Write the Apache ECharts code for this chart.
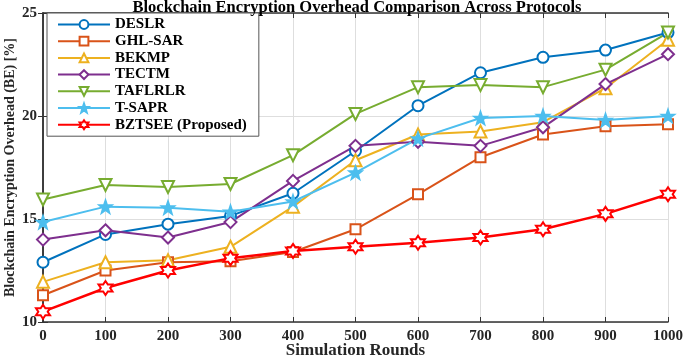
<!DOCTYPE html>
<html>
<head>
<meta charset="utf-8">
<script src="https://cdn.jsdelivr.net/npm/echarts@6/dist/echarts.min.js"></script>
<style>
  html, body { margin: 0; padding: 0; background: #fff; }
  #chart { width: 685px; height: 357px; }
</style>
</head>
<body>
<div id="chart"></div>
<script>
const rounds = [0, 100, 200, 300, 400, 500, 600, 700, 800, 900, 1000];

const deslr   = [12.9, 14.25, 14.75, 15.15, 16.25, 18.3, 20.5, 22.1, 22.85, 23.2, 24.05];
const ghlSar  = [11.3, 12.5, 12.9, 12.95, 13.4, 14.5, 16.2, 18.0, 19.1, 19.5, 19.6];
const bekmp   = [11.95, 12.9, 13.0, 13.65, 15.6, 17.85, 19.1, 19.25, 19.7, 21.35, 23.7];
const tectm   = [14.0, 14.45, 14.1, 14.85, 16.85, 18.55, 18.75, 18.55, 19.45, 21.55, 23.0];
const taflrlr = [15.95, 16.65, 16.55, 16.7, 18.1, 20.1, 21.4, 21.5, 21.4, 22.25, 24.05];
const tSapr   = [14.85, 15.6, 15.55, 15.35, 15.85, 17.25, 18.9, 19.9, 20.0, 19.8, 20.0];
const bztsee  = [10.5, 11.65, 12.5, 13.1, 13.45, 13.65, 13.85, 14.1, 14.5, 15.25, 16.2];

const seriesNames = ['DESLR', 'GHL-SAR', 'BEKMP', 'TECTM', 'TAFLRLR', 'T-SAPR', 'BZTSEE (Proposed)'];

const chartDom = document.getElementById('chart');
const myChart = echarts.init(chartDom);

const font = 'Liberation Serif';
const star5 = 'path://M0,-10 L2.35,-3.24 L9.51,-3.09 L3.8,1.24 L5.88,8.09 L0,4 L-5.88,8.09 L-3.8,1.24 L-9.51,-3.09 L-2.35,-3.24 Z';
const star6 = 'path://M0,-10 L2.9,-5 L8.66,-5 L5.8,0 L8.66,5 L2.9,5 L0,10 L-2.9,5 L-8.66,5 L-5.8,0 L-8.66,-5 L-2.9,-5 Z';
const downTri = 'path://M-9,-8 L9,-8 L0,8 Z';

function mk(name, values, color, symbol, opts) {
  opts = opts || {};
  return {
    name: name,
    type: 'line',
    data: rounds.map((r, i) => [r, values[i]]),
    symbol: symbol,
    symbolSize: opts.size || 11,
    lineStyle: { color: color, width: opts.width || 2 },
    itemStyle: {
      color: opts.filled ? color : '#fff',
      borderColor: color,
      borderWidth: 2
    },
    emphasis: { disabled: true },
    z: opts.z || 2
  };
}

const option = {
  animation: false,
  backgroundColor: '#fff',
  title: {
    text: 'Blockchain Encryption Overhead Comparison Across Protocols',
    left: 357,
    textAlign: 'center',
    top: 2,
    padding: 0,
    textStyle: { fontFamily: font, fontSize: 16.5, lineHeight: 12, fontWeight: 'bold', color: '#000' }
  },
  legend: {
    orient: 'vertical',
    left: 47,
    top: 13,
    itemWidth: 52,
    itemHeight: 11,
    itemGap: 1.7,
    padding: [4, 12, 4, 10],
    backgroundColor: '#fff',
    borderColor: '#555',
    borderWidth: 1,
    textStyle: { fontFamily: font, fontSize: 15, lineHeight: 15, fontWeight: 'bold', color: '#000' },
    data: seriesNames
  },
  grid: { left: 43, right: 17, top: 13, bottom: 35, outerBoundsMode: 'none' },
  xAxis: [{
    type: 'value',
    min: 0, max: 1000, interval: 100,
    name: 'Simulation Rounds',
    nameLocation: 'middle',
    nameGap: 20,
    nameMoveOverlap: false,
    nameTextStyle: { fontFamily: font, fontSize: 17, fontWeight: 'bold', color: '#262626' },
    axisLine: { show: true, lineStyle: { color: '#333', width: 1.5 } },
    axisTick: { show: true, inside: true, length: 5, lineStyle: { color: '#333' } },
    axisLabel: { fontFamily: font, fontSize: 15, fontWeight: 'bold', color: '#262626', margin: 7,
      formatter: v => String(v) },
    splitLine: { show: true, lineStyle: { color: '#dedede', width: 1 } }
  }, {
    type: 'value', position: 'top',
    min: 0, max: 1000, interval: 100,
    axisLine: { show: true, lineStyle: { color: '#333', width: 1.5 } },
    axisTick: { show: true, inside: true, length: 5, lineStyle: { color: '#333' } },
    axisLabel: { show: false },
    splitLine: { show: false }
  }],
  yAxis: [{
    type: 'value',
    min: 10, max: 25, interval: 5,
    name: 'Blockchain Encryption Overhead (BE) [%]',
    nameLocation: 'middle',
    nameGap: 26,
    nameMoveOverlap: false,
    nameTextStyle: { fontFamily: font, fontSize: 14, fontWeight: 'bold', color: '#262626' },
    axisLine: { show: true, lineStyle: { color: '#333', width: 1.5 } },
    axisTick: { show: true, inside: true, length: 5, lineStyle: { color: '#333' } },
    axisLabel: { fontFamily: font, fontSize: 15, fontWeight: 'bold', color: '#262626', margin: 6 },
    splitLine: { show: true, lineStyle: { color: '#dedede', width: 1 } }
  }, {
    type: 'value', position: 'right',
    min: 10, max: 25, interval: 5,
    axisLine: { show: true, lineStyle: { color: '#333', width: 1.5 } },
    axisTick: { show: true, inside: true, length: 5, lineStyle: { color: '#333' } },
    axisLabel: { show: false },
    splitLine: { show: false }
  }],
  series: [
    mk('DESLR', deslr, '#0072BD', 'circle'),
    mk('GHL-SAR', ghlSar, '#D95319', 'rect', { size: 10 }),
    mk('BEKMP', bekmp, '#EDB120', 'triangle', { size: 12 }),
    mk('TECTM', tectm, '#7E2F8E', 'diamond', { size: 12 }),
    mk('TAFLRLR', taflrlr, '#77AC30', downTri, { size: 12 }),
    mk('T-SAPR', tSapr, '#4DBEEE', star5, { size: 12, filled: true }),
    mk('BZTSEE (Proposed)', bztsee, '#FF0000', star6, { size: 14, width: 2.5, z: 3 })
  ]
};

myChart.setOption(option);
</script>
</body>
</html>
